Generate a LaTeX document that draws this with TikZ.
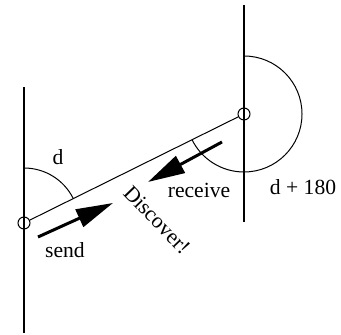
\documentclass[tikz,border=0pt]{standalone}
\usepackage{fontspec}
\setmainfont{Liberation Serif}
\usetikzlibrary{arrows.meta}
\tikzset{
  % Host position (small circle)
  hostnode/.style={
    circle,
    draw,
    line width=0.5pt,
    minimum size=6pt,
    inner sep=0pt
  },
  % North reference line
  northline/.style={
    line width=0.6pt
  },
  % Line between hosts
  linkline/.style={
    line width=0.5pt
  },
  % Bearing arc
  anglearc/.style={
    line width=0.5pt
  },
  % Message direction arrow
  msgarrow/.style={
    -{Triangle[length=18.5pt, width=9.4pt]},
    line width=1.5pt
  },
  % Text labels
  labeltext/.style={
    font=\fontsize{10.8}{13}\selectfont
  }
}
\begin{document}
\begin{tikzpicture}[x=0.5pt, y=0.5pt]
\useasboundingbox (0,0) rectangle (341,335);

%% === Hosts ===
\node[hostnode] (hostA) at (24, 112) {};
\node[hostnode] (hostB) at (244, 221) {};

%% === North lines ===
\coordinate (northAtop) at (24, 248);
\coordinate (northAbot) at (24, 2);
\coordinate (northBtop) at (244, 330);
\coordinate (northBbot) at (244, 113);
\draw[northline] (northAtop) -- (northAbot);
\draw[northline] (northBtop) -- (northBbot);

% Link between hosts
\draw[linkline] (hostA) -- (hostB);

%% === Bearing arcs ===
\draw[anglearc] (hostA.center) ++(90:55) arc[start angle=90, end angle=26.4, radius=55];
\draw[anglearc] (hostB.center) ++(90:58) arc[start angle=90, end angle=-153.6, radius=58];

%% === Message arrows ===
\coordinate (sendstart) at (38, 98);
\coordinate (sendend) at (113, 132);
\draw[msgarrow] (sendstart) -- (sendend);
\coordinate (recvstart) at (222, 193);
\coordinate (recvend) at (148, 153);
\draw[msgarrow] (recvstart) -- (recvend);

%% === Labels ===
\node[labeltext] (dlabel) at (58, 178) {d};
\node[labeltext] (dplus) at (303, 148) {d + 180};
\node[labeltext] (recvlabel) at (199, 145) {receive};
\node[labeltext] (sendlabel) at (65, 85) {send};
\node[labeltext, rotate=-46] (discover) at (157, 115) {Discover!};

\end{tikzpicture}
\end{document}
